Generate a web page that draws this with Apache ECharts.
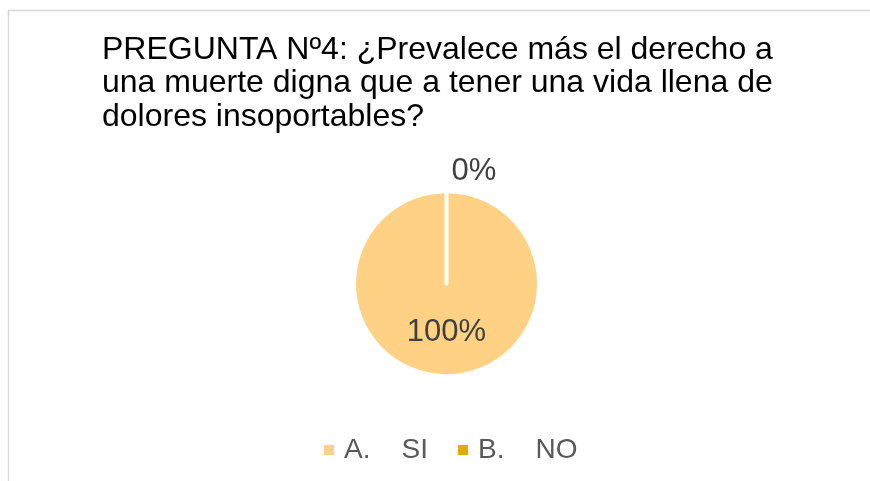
<!DOCTYPE html>
<html><head><meta charset="utf-8">
<script src="https://cdn.jsdelivr.net/npm/echarts@6/dist/echarts.min.js"></script>
<style>html,body{margin:0;padding:0;background:#fff}#c{width:870px;height:481px}</style>
</head><body><div id="c"></div>
<script>
const titleText = 'PREGUNTA Nº4: ¿Prevalece más el derecho a\nuna muerte digna que a tener una vida llena de\ndolores insoportables?';
const categories = ['A.    SI', 'B.    NO'];
const values = [100, 0];
const colors = ['#FFD185', '#E3AA00'];

const chart = echarts.init(document.getElementById('c'));
chart.setOption({
  animation: false,
  graphic: [{
    type: 'rect', shape: {x: 8.5, y: 10.5, width: 900, height: 500},
    style: {fill: 'none', stroke: '#d9d9d9', lineWidth: 1.5}, silent: true
  }],
  title: {
    text: titleText, left: 102, top: 33, padding: 0,
    textStyle: {fontFamily: 'Liberation Sans', fontSize: 32, fontWeight: 'normal', color: '#000', lineHeight: 33.5}
  },
  legend: {
    top: 436, left: 322, padding: 0, itemWidth: 12, itemHeight: 12, itemGap: 28,
    icon: 'rect',
    textStyle: {fontFamily: 'Liberation Sans', fontSize: 28, color: '#595959', padding: [0, 0, 0, 4]},
    data: categories
  },
  series: [{
    type: 'pie', center: [446.5, 283.7], radius: 92.5, startAngle: 90, clockwise: true,
    stillShowZeroSum: true,
    itemStyle: {borderColor: '#fff', borderWidth: 4},
    label: {fontFamily: 'Liberation Sans', fontSize: 31, color: '#404040', formatter: '{d}%'},
    labelLine: {show: false, length: 20, length2: 0},
    emphasis: {disabled: true},
    data: categories.map((n, i) => ({
      name: n, value: values[i],
      itemStyle: {color: colors[i]},
      label: {position: i === 0 ? 'inside' : 'outside'}
    }))
  }]
});
</script></body></html>
